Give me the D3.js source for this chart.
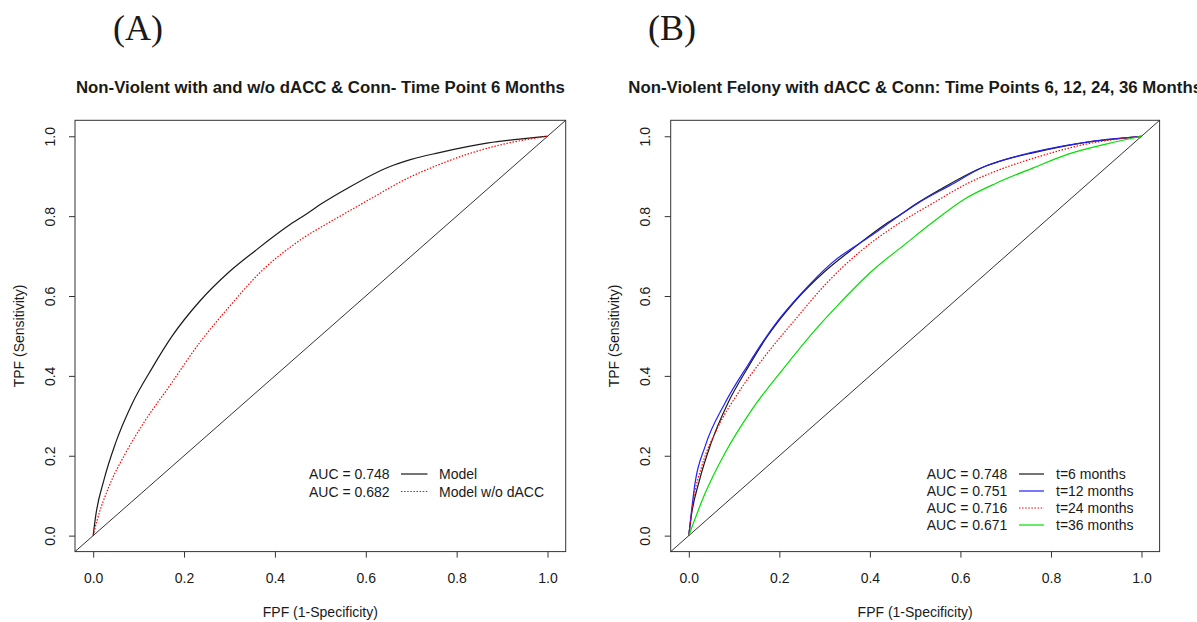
<!DOCTYPE html>
<html>
<head>
<meta charset="utf-8">
<script src="https://cdn.jsdelivr.net/npm/d3@7"></script>
<style>
  body { margin: 0; background: #fff; }
  svg { display: block; }
  text { font-family: "Liberation Sans", Arial, sans-serif; fill: #1a1a1a; }
</style>
</head>
<body>
<svg id="fig" width="1197" height="622"></svg>
<script>
// ROC curves, points are [FPF, TPF]
const rocT6 = [ // full model, t = 6 months (AUC 0.748)
  [0, 0], [0.0053, 0.0475], [0.0236, 0.139], [0.049, 0.231], [0.086, 0.331],
  [0.130, 0.420], [0.174, 0.500], [0.233, 0.585], [0.299, 0.660], [0.3575, 0.714],
  [0.431, 0.777], [0.466, 0.803], [0.504, 0.832], [0.554, 0.866], [0.6495, 0.9225],
  [0.700, 0.942], [0.7596, 0.9585], [0.8697, 0.9835], [0.943, 0.9935], [1, 1]
];
const rocNoDacc = [ // model without dACC, t = 6 months (AUC 0.682)
  [0, 0], [0.0088, 0.039], [0.0346, 0.1225], [0.071, 0.206], [0.115, 0.289],
  [0.1667, 0.3725], [0.233, 0.481], [0.299, 0.5725], [0.372, 0.664], [0.4456, 0.732],
  [0.466, 0.748], [0.504, 0.774], [0.539, 0.797], [0.613, 0.845], [0.686, 0.8915],
  [0.760, 0.9285], [0.833, 0.9585], [0.906, 0.981], [1, 1]
];
const rocT12 = [ // t = 12 months (AUC 0.751)
  [0, 0], [0.0137, 0.131], [0.0358, 0.223], [0.080, 0.332], [0.131, 0.428],
  [0.190, 0.528], [0.249, 0.607], [0.316, 0.683], [0.404, 0.752], [0.467, 0.803],
  [0.507, 0.833], [0.577, 0.877], [0.651, 0.923], [0.739, 0.954], [0.835, 0.977],
  [0.924, 0.992], [1, 1]
];
const rocT24 = [ // t = 24 months (AUC 0.716)
  [0, 0], [0.010, 0.089], [0.0285, 0.173], [0.065, 0.273], [0.109, 0.357],
  [0.168, 0.449], [0.235, 0.541], [0.301, 0.628], [0.375, 0.708], [0.463, 0.781],
  [0.540, 0.833], [0.614, 0.881], [0.688, 0.917], [0.776, 0.950], [0.872, 0.979], [1, 1]
];
const rocT36 = [ // t = 36 months (AUC 0.671)
  [0, 0], [0.036, 0.106], [0.080, 0.207], [0.139, 0.315], [0.213, 0.424],
  [0.286, 0.524], [0.330, 0.578], [0.404, 0.662], [0.478, 0.730], [0.540, 0.786],
  [0.614, 0.846], [0.680, 0.883], [0.761, 0.921], [0.835, 0.954], [0.924, 0.981], [1, 1]
];

const axisTicks = [0, 0.2, 0.4, 0.6, 0.8, 1.0];
const panelLetters = ["(A)", "(B)"];
const panelTitles = [
  "Non-Violent with and w/o dACC & Conn- Time Point 6 Months",
  "Non-Violent Felony with dACC & Conn: Time Points 6, 12, 24, 36 Months"
];
const xAxisTitle = "FPF (1-Specificity)";
const yAxisTitle = "TPF (Sensitivity)";

const aucA = ["0.748", "0.682"];
const namesA = ["Model", "Model w/o dACC"];
const aucB = ["0.748", "0.751", "0.716", "0.671"];
const namesB = ["t=6 months", "t=12 months", "t=24 months", "t=36 months"];

// line styles
const solidBlack = { stroke: "#1a1a1a", dash: null };
const dottedRed  = { stroke: "#ff0000", dash: "1.5,1.6" };
const solidBlue  = { stroke: "#2020ff", dash: null };
const solidGreen = { stroke: "#00e000", dash: null };

const panels = [
  {
    box: { left: 75, right: 565.7, top: 120.3, bottom: 551.6 },
    letterX: 113, title: panelTitles[0], letter: panelLetters[0],
    curves: [ { data: rocT6, style: solidBlack }, { data: rocNoDacc, style: dottedRed } ],
    legend: { auc: aucA, names: namesA, styles: [solidBlack, dottedRed],
              x: 309, lineX0: 401, lineX1: 427.5, labelX: 439, y0: 474, dy: 17.5 }
  },
  {
    box: { left: 670.7, right: 1159.6, top: 120.3, bottom: 551.6 },
    letterX: 648, title: panelTitles[1], letter: panelLetters[1],
    curves: [ { data: rocT6, style: solidBlack }, { data: rocT12, style: solidBlue },
              { data: rocT24, style: dottedRed }, { data: rocT36, style: solidGreen } ],
    legend: { auc: aucB, names: namesB, styles: [solidBlack, solidBlue, dottedRed, solidGreen],
              x: 926.7, lineX0: 1019, lineX1: 1044, labelX: 1056, y0: 474, dy: 17 }
  }
];

const svg = d3.select("#fig");

panels.forEach(p => {
  const b = p.box;
  // R-style 4% padding on both axes
  const x = d3.scaleLinear().domain([-0.04, 1.04]).range([b.left, b.right]);
  const y = d3.scaleLinear().domain([-0.04, 1.04]).range([b.bottom, b.top]);
  const g = svg.append("g");

  // panel letter
  g.append("text")
    .attr("x", p.letterX).attr("y", 39.5)
    .style("font-family", "'Liberation Serif', 'Times New Roman', serif")
    .style("font-size", "36px")
    .text(p.letter);

  // main title
  g.append("text")
    .attr("x", (b.left + b.right) / 2).attr("y", 93)
    .attr("text-anchor", "middle")
    .style("font-size", "16.8px").style("font-weight", "bold")
    .text(p.title);

  // reference diagonal across the plot region
  const dom = x.domain();
  g.append("line")
    .attr("x1", x(dom[0])).attr("y1", y(dom[0]))
    .attr("x2", x(dom[1])).attr("y2", y(dom[1]))
    .attr("stroke", "#333").attr("stroke-width", 1);

  // ROC curves
  const line = d3.line().x(d => x(d[0])).y(d => y(d[1])).curve(d3.curveMonotoneX);
  p.curves.forEach(c => {
    g.append("path")
      .attr("d", line(c.data))
      .attr("fill", "none")
      .attr("stroke", c.style.stroke)
      .attr("stroke-width", 1.2)
      .attr("stroke-dasharray", c.style.dash);
  });

  // frame
  g.append("rect")
    .attr("x", b.left).attr("y", b.top)
    .attr("width", b.right - b.left).attr("height", b.bottom - b.top)
    .attr("fill", "none").attr("stroke", "#333").attr("stroke-width", 1);

  // x axis
  const gx = g.append("g")
    .attr("transform", `translate(0,${b.bottom})`)
    .call(d3.axisBottom(x).tickValues(axisTicks).tickSize(6).tickPadding(15)
      .tickFormat(d3.format(".1f")));
  gx.select(".domain").remove();
  gx.selectAll("line").attr("stroke", "#333");
  gx.selectAll("text").style("font-size", "14px").style("font-family", null).attr("fill", "#1a1a1a");

  // y axis, labels rotated to read upward
  const gy = g.append("g")
    .attr("transform", `translate(${b.left},0)`)
    .call(d3.axisLeft(y).tickValues(axisTicks).tickSize(6)
      .tickFormat(d3.format(".1f")));
  gy.select(".domain").remove();
  gy.selectAll("line").attr("stroke", "#333");
  gy.selectAll("text")
    .attr("x", null).attr("dy", null)
    .attr("text-anchor", "middle")
    .attr("transform", "translate(-20.4,0) rotate(-90)")
    .style("font-size", "14px").style("font-family", null).attr("fill", "#1a1a1a");

  // axis titles
  g.append("text")
    .attr("x", (b.left + b.right) / 2).attr("y", 617)
    .attr("text-anchor", "middle").style("font-size", "14px")
    .text(xAxisTitle);
  g.append("text")
    .attr("transform", `translate(${b.left - 51.5},${(b.top + b.bottom) / 2}) rotate(-90)`)
    .attr("text-anchor", "middle").style("font-size", "14px")
    .text(yAxisTitle);

  // legend
  const L = p.legend;
  L.auc.forEach((a, i) => {
    const cy = L.y0 + i * L.dy;
    g.append("text").attr("x", L.x).attr("y", cy).attr("dy", "0.36em")
      .style("font-size", "14px").text("AUC = " + a);
    g.append("line")
      .attr("x1", L.lineX0).attr("x2", L.lineX1).attr("y1", cy).attr("y2", cy)
      .attr("stroke", L.styles[i].stroke).attr("stroke-width", 1.2)
      .attr("stroke-dasharray", L.styles[i].dash);
    g.append("text").attr("x", L.labelX).attr("y", cy).attr("dy", "0.36em")
      .style("font-size", "14px").text(L.names[i]);
  });
});
</script>
</body>
</html>
